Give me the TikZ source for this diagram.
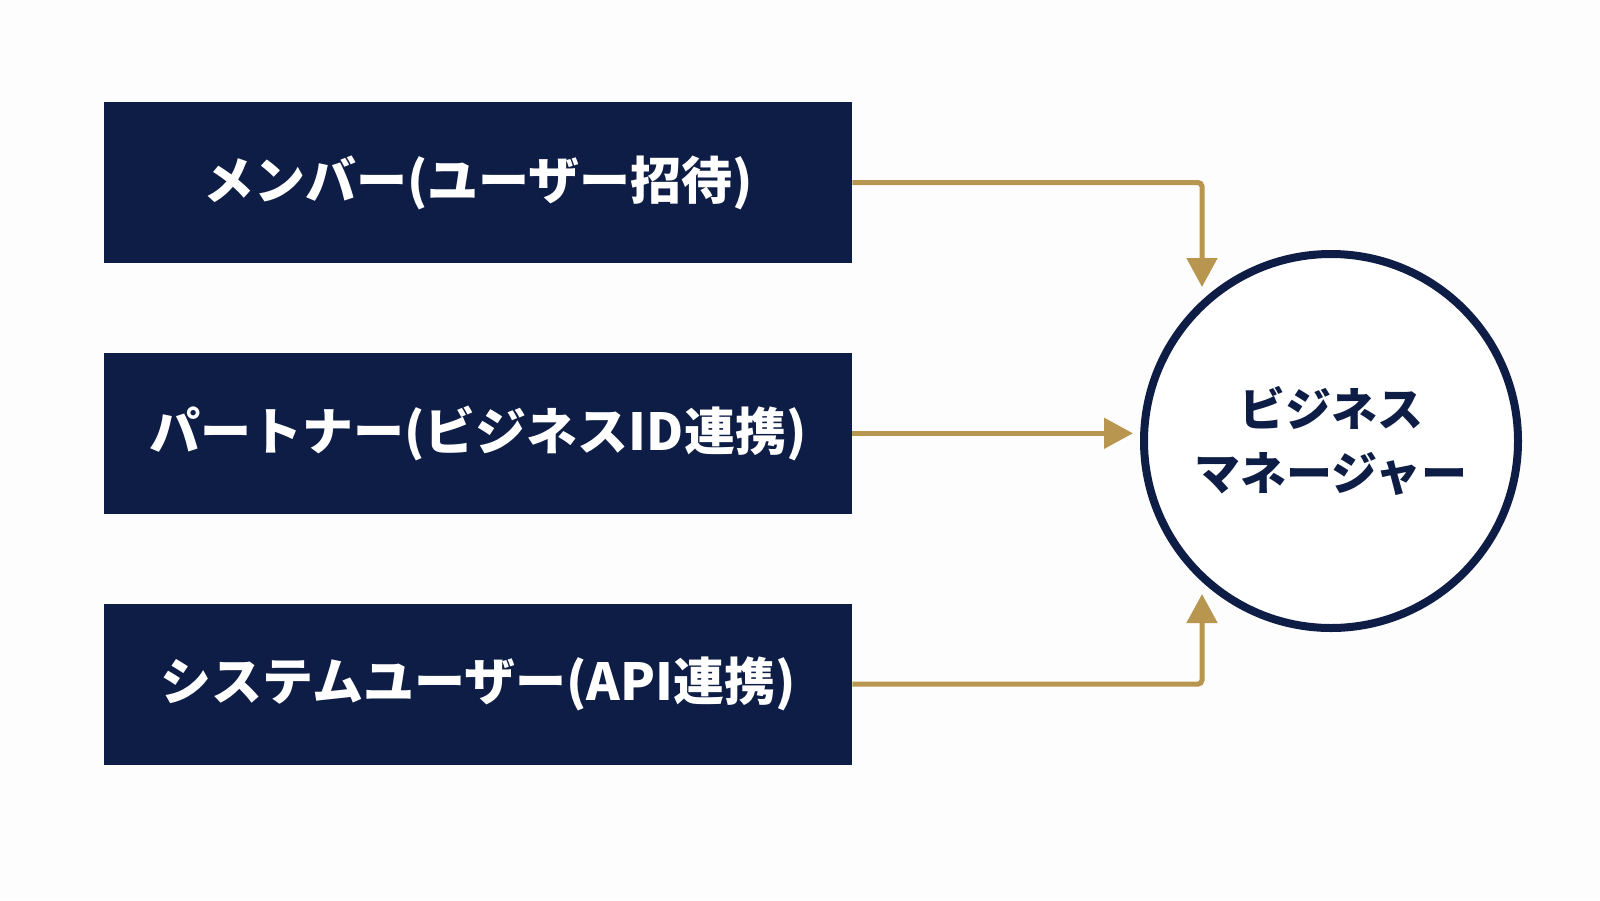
\documentclass[tikz,border=0pt]{standalone}
\usepackage{fontspec}
\newfontfamily\jpfont{Noto Sans CJK JP}
\usetikzlibrary{positioning,arrows.meta}
\definecolor{navy}{HTML}{0E1D45}
\definecolor{gold}{HTML}{B8964F}
\definecolor{paper}{HTML}{FDFDFD}
\begin{document}
\begin{tikzpicture}[x=0.5pt,y=-0.5pt,
  role/.style={fill=navy,draw=none,shape=rectangle,minimum width=374pt,minimum height=80.5pt,
    inner sep=0pt,text=white,font=\jpfont\bfseries\fontsize{25.5}{30}\selectfont},
  hub/.style={circle,draw=navy,line width=4pt,fill=white,minimum size=187pt,inner sep=0pt,
    text=navy,align=center,font=\jpfont\bfseries\fontsize{23}{32}\selectfont},
  flow/.style={draw=gold,line width=2.5pt,rounded corners=2pt,-{Triangle[length=14.5pt,width=15pt]}}]
\useasboundingbox[fill=paper] (0,0) rectangle (1600,900);
\node[role] (member) at (478,182.5) {メンバー(ユーザー招待)};
\node[role,below=44.5pt of member] (partner) {パートナー(ビジネスID連携)};
\node[role,below=44.5pt of partner] (system) {システムユーザー(API連携)};
\node[hub] (mgr) at (1331,441) {ビジネス\\マネージャー};
\coordinate (mgr top) at (1202,287);
\coordinate (mgr left) at (1133,430);
\coordinate (mgr bottom) at (1202,594);
\draw[flow] (member.east) -| (mgr top);
\draw[flow] (partner.east) -- (partner.east -| mgr left);
\draw[flow] (system.east) -| (mgr bottom);
\end{tikzpicture}
\end{document}
